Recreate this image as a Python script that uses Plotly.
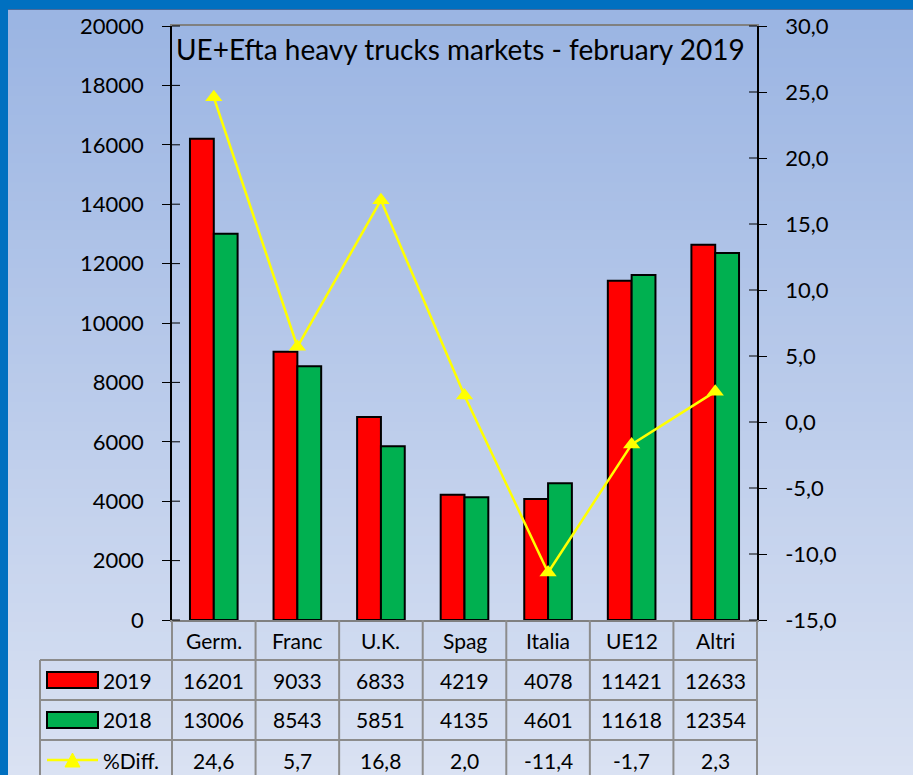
import plotly.graph_objects as go

categories = ["Germ.", "Franc", "U.K.", "Spag", "Italia", "UE12", "Altri"]
v2019 = [16201, 9033, 6833, 4219, 4078, 11421, 12633]
v2018 = [13006, 8543, 5851, 4135, 4601, 11618, 12354]
pdiff = [24.6, 5.7, 16.8, 2.0, -11.4, -1.7, 2.3]
diff_labels = ["24,6", "5,7", "16,8", "2,0", "-11,4", "-1,7", "2,3"]
left_ticks = [0, 2000, 4000, 6000, 8000, 10000, 12000, 14000, 16000, 18000, 20000]
right_ticks = [-15, -10, -5, 0, 5, 10, 15, 20, 25, 30]
right_labels = ["-15,0", "-10,0", "-5,0", "0,0", "5,0", "10,0", "15,0", "20,0", "25,0", "30,0"]
title_text = "UE+Efta heavy trucks markets - february 2019"

W, H = 913, 775
L, R, T, B = 172, 757, 26, 620
FONT = "Lato"

def xp(px):
    return (px - L) / (R - L)

def yp(py):
    return (B - py) / (B - T)

fig = go.Figure()
fig.add_trace(go.Bar(x=categories, y=v2019, name="2019", marker=dict(color="#FF0000", line=dict(color="black", width=2)), showlegend=False))
fig.add_trace(go.Bar(x=categories, y=v2018, name="2018", marker=dict(color="#00B050", line=dict(color="black", width=2)), showlegend=False))
fig.add_trace(go.Scatter(x=categories, y=pdiff, yaxis="y2", mode="lines+markers", name="%Diff.",
                         line=dict(color="#FFFF00", width=2.5),
                         marker=dict(symbol="triangle-up", size=15, color="#FFFF00"), showlegend=False))

shapes = []
# gradient background
n = 80
c0 = (0x9B, 0xB5, 0xE3)
c1 = (0xDA, 0xE2, 0xF3)
for i in range(n):
    t = i / (n - 1)
    col = "rgb(%d,%d,%d)" % tuple(int(c0[k] + (c1[k] - c0[k]) * t) for k in range(3))
    shapes.append(dict(type="rect", xref="paper", yref="paper", layer="below",
                       x0=xp(0), x1=xp(W), y0=yp(10 + (H - 10) * i / n), y1=yp(10 + (H - 10) * (i + 1) / n + 1),
                       fillcolor=col, line=dict(width=0)))
# blue frame top/left
shapes.append(dict(type="rect", xref="paper", yref="paper", layer="above", x0=xp(-5), x1=xp(W + 5), y0=yp(9), y1=yp(-5),
                   fillcolor="#0070C0", line=dict(width=0)))
shapes.append(dict(type="line", xref="paper", yref="paper", layer="above", x0=xp(8), x1=xp(W), y0=yp(9.5), y1=yp(9.5),
                   line=dict(color="#4a6a9a", width=1)))
shapes.append(dict(type="rect", xref="paper", yref="paper", layer="above", x0=xp(-5), x1=xp(8), y0=yp(H + 5), y1=yp(-5),
                   fillcolor="#0070C0", line=dict(width=0)))

# table grid
ncat = len(categories)
cw = (R - L) / ncat
grid = dict(color="#8c8c8c", width=2)
rows = [620, 660, 700, 740, 790]
legx = 40
for r in rows[1:4]:
    shapes.append(dict(type="line", xref="paper", yref="paper", x0=xp(legx), x1=xp(R), y0=yp(r), y1=yp(r), line=grid))
for k in range(ncat + 1):
    xx = L + k * cw
    shapes.append(dict(type="line", xref="paper", yref="paper", x0=xp(xx), x1=xp(xx), y0=yp(620), y1=yp(790), line=grid))
shapes.append(dict(type="line", xref="paper", yref="paper", x0=xp(legx), x1=xp(legx), y0=yp(660), y1=yp(790), line=grid))

# inner tick halves
for v in left_ticks:
    yy = B - (v - 0) / 20000 * (B - T)
    shapes.append(dict(type="line", xref="paper", yref="paper", x0=xp(L), x1=xp(L + 8), y0=yp(yy), y1=yp(yy),
                       line=dict(color="black", width=1)))
for v in right_ticks:
    yy = B - (v + 15) / 45 * (B - T)
    shapes.append(dict(type="line", xref="paper", yref="paper", x0=xp(R - 8), x1=xp(R), y0=yp(yy), y1=yp(yy),
                       line=dict(color="black", width=1)))

# legend keys
shapes.append(dict(type="rect", xref="paper", yref="paper", x0=xp(47), x1=xp(98), y0=yp(688), y1=yp(672),
                   fillcolor="#FF0000", line=dict(color="black", width=2)))
shapes.append(dict(type="rect", xref="paper", yref="paper", x0=xp(47), x1=xp(98), y0=yp(728), y1=yp(712),
                   fillcolor="#00B050", line=dict(color="black", width=2)))
shapes.append(dict(type="line", xref="paper", yref="paper", x0=xp(47), x1=xp(98), y0=yp(760), y1=yp(760),
                   line=dict(color="#FFFF00", width=2.5)))
shapes.append(dict(type="path", xref="paper", yref="paper",
                   path="M %f %f L %f %f L %f %f Z" % (xp(65), yp(767), xp(80), yp(767), xp(72.5), yp(753)),
                   fillcolor="#FFFF00", line=dict(color="#FFFF00", width=1)))

ann = []
fs = 21
def txt(x, y, s, anchor="center", size=fs):
    ann.append(dict(x=x, y=y, xref="paper", yref="paper", text=s, showarrow=False,
                    xanchor=anchor, yanchor="middle",
                    font=dict(size=size, family=FONT, color="black")))

for k in range(ncat):
    cx = xp(L + (k + 0.5) * cw)
    txt(cx, yp(640), categories[k])
    txt(cx, yp(680), str(v2019[k]))
    txt(cx, yp(720), str(v2018[k]))
    txt(cx, yp(760), diff_labels[k])
for s, yy in [("2019", 680), ("2018", 720), ("%Diff.", 760)]:
    txt(xp(101), yp(yy), s, anchor="left")
txt(xp(174), yp(49), title_text, anchor="left", size=28)

fig.update_layout(
    width=W, height=H,
    margin=dict(l=L, r=W - R, t=T, b=H - B, pad=0),
    paper_bgcolor="#C5D2EE",
    plot_bgcolor="#C0C0C0",
    barmode="group", bargap=0.43, bargroupgap=0,
    font=dict(family=FONT, size=fs, color="black"),
    xaxis=dict(showticklabels=False, ticks="", showline=True, linecolor="#808080", linewidth=2, mirror=True,
               showgrid=False, zeroline=False),
    yaxis=dict(range=[0, 20000], tickvals=left_ticks, ticktext=[str(v) for v in left_ticks],
               showgrid=False, zeroline=False, showline=True, linecolor="black", linewidth=1.5,
               ticks="outside", ticklen=8, tickcolor="black", ticklabelstandoff=14,
               tickfont=dict(size=22, family=FONT, color="black")),
    yaxis2=dict(range=[-15, 30], tickvals=right_ticks, ticktext=right_labels, overlaying="y", side="right",
                showgrid=False, zeroline=False, showline=True, linecolor="black", linewidth=1.5,
                ticks="outside", ticklen=8, tickcolor="black", ticklabelstandoff=14,
                tickfont=dict(size=22, family=FONT, color="black")),
    shapes=shapes, annotations=ann, showlegend=False,
)
fig.write_html("out.html", config={"displayModeBar": False},
               post_script="document.body.style.margin='0';document.body.style.overflow='hidden';window.scrollTo(0,0);")
